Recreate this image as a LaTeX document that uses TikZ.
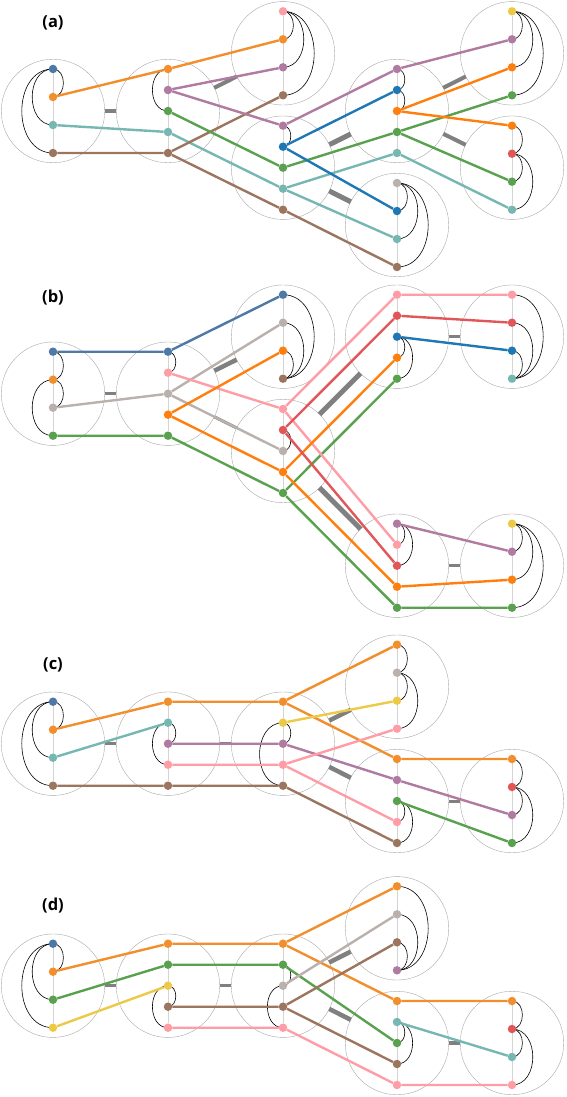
\documentclass[tikz,border=0pt]{standalone}
\usepackage{fontspec}
\setsansfont{Open Sans}
\pgfdeclarelayer{back}
\pgfsetlayers{back,main}

\definecolor{cSteel}{HTML}{4E79A7}
\definecolor{cOrA}{HTML}{F28E2B}
\definecolor{cOrB}{HTML}{FF7F0E}
\definecolor{cTeal}{HTML}{76B7B2}
\definecolor{cBrown}{HTML}{9C755F}
\definecolor{cPurple}{HTML}{B07AA1}
\definecolor{cGreen}{HTML}{59A14F}
\definecolor{cPink}{HTML}{FF9DA7}
\definecolor{cRed}{HTML}{E15759}
\definecolor{cYellow}{HTML}{EDC948}
\definecolor{cGray}{HTML}{BAB0AC}
\definecolor{cBlue}{HTML}{1F77B4}
\definecolor{ringGray}{HTML}{A8A8A8}
\definecolor{spineGray}{HTML}{D4D4D4}
\definecolor{rankGray}{HTML}{808080}

\tikzset{
  ring/.style={circle, draw=ringGray, line width=0.4pt, minimum size=103.5pt, inner sep=0pt, outer sep=0pt},
  dot/.style={circle, inner sep=0pt, minimum size=8.5pt},
  spine/.style={draw=spineGray, line width=1pt},
  thread/.style={line width=2.4pt},
  tie/.style={draw=black, line width=0.6pt},
  rbend/.style={out=0, in=0, looseness=1.27},
  lbend/.style={out=180, in=180, looseness=1.27},
  rank/.style={draw=rankGray, line width=#1},
  rank/.default=3.5pt,
  tag/.style={font=\sffamily\bfseries\fontsize{16.5}{16.5}\selectfont}
}

% hub: name, x, y of centre, colours of its dots from top to bottom
\newcommand{\hub}[4]{%
  \begin{pgfonlayer}{back}
    \node[ring] (#1) at (#2,#3) {};
  \end{pgfonlayer}
  \foreach \col [count=\i] in {#4} {\xdef\hubn{\i}}
  \foreach \col [count=\i] in {#4} {
    \pgfmathsetmacro\yy{#3-42+84*(\i-1)/(\hubn-1)}
    \node[dot, fill=\col] (#1-\i) at (#2,\yy) {};
  }
  \begin{pgfonlayer}{back}
    \draw[spine] (#1-1) -- (#1-\hubn);
  \end{pgfonlayer}
}

\begin{document}
\begin{tikzpicture}[x=1pt, y=-1pt]
\useasboundingbox (0,0) rectangle (566,1097);

% (a)
\node[tag] (la) at (53,23) {(a)};
\hub{a1}{53}{111}{cSteel,cOrA,cTeal,cBrown}
\hub{a2}{168}{111}{cOrA,cPurple,cGreen,cTeal,cBrown}
\hub{a3}{283}{53.3}{cPink,cOrA,cPurple,cBrown}
\hub{a4}{283}{167.7}{cPurple,cBlue,cGreen,cTeal,cBrown}
\hub{a5}{397}{111}{cPurple,cBlue,cOrB,cGreen,cTeal}
\hub{a6}{397}{225}{cGray,cBlue,cTeal,cBrown}
\hub{a7}{512}{53.3}{cYellow,cPurple,cOrB,cGreen}
\hub{a8}{512}{167.7}{cOrB,cRed,cGreen,cTeal}
\begin{pgfonlayer}{back}
  \draw[rank] (a1) -- (a2);
  \draw[rank=4pt] (a2) -- (a3);
  \draw[rank=5pt] (a4) -- (a5);
  \draw[rank=5pt] (a4) -- (a6);
  \draw[rank=4pt] (a5) -- (a7);
  \draw[rank=4pt] (a5) -- (a8);
  \draw[tie] (a1-1.center) to[rbend] (a1-2.center);
  \foreach \v in {3,4} \draw[tie] (a1-1.center) to[lbend] (a1-\v.center);
  \draw[tie] (a2-1.center) to[lbend] (a2-3.center);
  \foreach \v in {2,3,4} \draw[tie] (a3-1.center) to[rbend] (a3-\v.center);
  \draw[tie] (a4-1.center) to[rbend] (a4-2.center);
  \foreach \u/\v in {1/2,2/3} \draw[tie] (a5-\u.center) to[rbend] (a5-\v.center);
  \foreach \v in {2,3,4} \draw[tie] (a6-1.center) to[rbend] (a6-\v.center);
  \foreach \v in {2,3,4} \draw[tie] (a7-1.center) to[rbend] (a7-\v.center);
  \foreach \u/\v in {1/2,2/3,2/4} \draw[tie] (a8-\u.center) to[rbend] (a8-\v.center);
  \draw[thread,cOrA] (a1-2) -- (a2-1) -- (a3-2);
  \draw[thread,cTeal] (a1-3) -- (a2-4) -- (a4-4) -- (a5-5) -- (a8-4);
  \draw[thread,cTeal] (a4-4) -- (a6-3);
  \draw[thread,cBrown] (a1-4) -- (a2-5) -- (a3-4);
  \draw[thread,cBrown] (a2-5) -- (a4-5) -- (a6-4);
  \draw[thread,cPurple] (a2-2) -- (a3-3);
  \draw[thread,cPurple] (a2-2) -- (a4-1) -- (a5-1) -- (a7-2);
  \draw[thread,cGreen] (a2-3) -- (a4-3) -- (a5-4) -- (a7-4);
  \draw[thread,cGreen] (a5-4) -- (a8-3);
  \draw[thread,cBlue] (a4-2) -- (a5-2);
  \draw[thread,cBlue] (a4-2) -- (a6-2);
  \draw[thread,cOrB] (a5-3) -- (a7-3);
  \draw[thread,cOrB] (a5-3) -- (a8-1);
\end{pgfonlayer}

% (b)
\node[tag] (lb) at (53,298) {(b)};
\hub{b1}{53}{393.7}{cSteel,cOrA,cGray,cGreen}
\hub{b2}{168}{393.7}{cSteel,cPink,cGray,cOrB,cGreen}
\hub{b3}{283}{336.7}{cSteel,cGray,cOrB,cBrown}
\hub{b4}{283}{451}{cPink,cRed,cGray,cOrB,cGreen}
\hub{b5}{397}{336.7}{cPink,cRed,cBlue,cOrB,cGreen}
\hub{b6}{512}{336.7}{cPink,cRed,cBlue,cTeal}
\hub{b7}{397}{565.7}{cPurple,cPink,cRed,cOrB,cGreen}
\hub{b8}{512}{565.7}{cYellow,cPurple,cOrB,cGreen}
\begin{pgfonlayer}{back}
  \draw[rank=3pt] (b1) -- (b2);
  \draw[rank=4.5pt] (b2) -- (b3);
  \draw[rank=3pt] (b2) -- (b4);
  \draw[rank=5pt] (b4) -- (b5);
  \draw[rank=5pt] (b4) -- (b7);
  \draw[rank=3pt] (b5) -- (b6);
  \draw[rank=3pt] (b7) -- (b8);
  \foreach \u/\v in {1/2,2/3} \draw[tie] (b1-\u.center) to[rbend] (b1-\v.center);
  \draw[tie] (b1-2.center) to[lbend] (b1-4.center);
  \draw[tie] (b2-1.center) to[rbend] (b2-2.center);
  \foreach \u in {1,2,3} \draw[tie] (b3-\u.center) to[rbend] (b3-4.center);
  \draw[tie] (b4-2.center) to[rbend] (b4-3.center);
  \foreach \v in {4,5} \draw[tie] (b5-3.center) to[rbend] (b5-\v.center);
  \foreach \u in {1,2,3} \draw[tie] (b6-\u.center) to[rbend] (b6-4.center);
  \foreach \v in {2,3} \draw[tie] (b7-1.center) to[rbend] (b7-\v.center);
  \foreach \v in {2,3,4} \draw[tie] (b8-1.center) to[rbend] (b8-\v.center);
  \draw[thread,cSteel] (b1-1) -- (b2-1) -- (b3-1);
  \draw[thread,cGray] (b1-3) -- (b2-3) -- (b3-2);
  \draw[thread,cGray] (b2-3) -- (b4-3);
  \draw[thread,cGreen] (b1-4) -- (b2-5) -- (b4-5) -- (b5-5);
  \draw[thread,cGreen] (b4-5) -- (b7-5) -- (b8-4);
  \draw[thread,cPink] (b2-2) -- (b4-1) -- (b5-1) -- (b6-1);
  \draw[thread,cPink] (b4-1) -- (b7-2);
  \draw[thread,cOrB] (b2-4) -- (b3-3);
  \draw[thread,cOrB] (b2-4) -- (b4-4) -- (b5-4);
  \draw[thread,cOrB] (b4-4) -- (b7-4) -- (b8-3);
  \draw[thread,cRed] (b4-2) -- (b5-2) -- (b6-2);
  \draw[thread,cRed] (b4-2) -- (b7-3);
  \draw[thread,cBlue] (b5-3) -- (b6-3);
  \draw[thread,cPurple] (b7-1) -- (b8-2);
\end{pgfonlayer}

% (c)
\node[tag] (lc) at (53,665) {(c)};
\hub{c1}{53}{743.7}{cSteel,cOrA,cTeal,cBrown}
\hub{c2}{168}{743.7}{cOrA,cTeal,cPurple,cPink,cBrown}
\hub{c3}{283}{743.7}{cOrA,cYellow,cPurple,cPink,cBrown}
\hub{c4}{397}{686.7}{cOrA,cGray,cYellow,cPink}
\hub{c5}{397}{801}{cOrA,cPurple,cGreen,cPink,cBrown}
\hub{c6}{512}{801}{cOrA,cRed,cPurple,cGreen}
\begin{pgfonlayer}{back}
  \draw[rank] (c1) -- (c2);
  \draw[rank=3pt] (c2) -- (c3);
  \draw[rank=4.5pt] (c3) -- (c4);
  \draw[rank=4.5pt] (c3) -- (c5);
  \draw[rank=3pt] (c5) -- (c6);
  \draw[tie] (c1-1.center) to[rbend] (c1-2.center);
  \foreach \v in {3,4} \draw[tie] (c1-1.center) to[lbend] (c1-\v.center);
  \draw[tie] (c2-2.center) to[rbend] (c2-3.center);
  \draw[tie] (c2-2.center) to[lbend] (c2-4.center);
  \draw[tie] (c3-2.center) to[rbend] (c3-3.center);
  \draw[tie] (c3-2.center) to[lbend] (c3-5.center);
  \foreach \u/\v in {1/2,2/3,2/4} \draw[tie] (c4-\u.center) to[rbend] (c4-\v.center);
  \foreach \v in {4,5} \draw[tie] (c5-3.center) to[rbend] (c5-\v.center);
  \foreach \u/\v in {1/2,2/3,2/4} \draw[tie] (c6-\u.center) to[rbend] (c6-\v.center);
  \draw[thread,cOrA] (c1-2) -- (c2-1) -- (c3-1) -- (c4-1);
  \draw[thread,cOrA] (c3-1) -- (c5-1) -- (c6-1);
  \draw[thread,cTeal] (c1-3) -- (c2-2);
  \draw[thread,cBrown] (c1-4) -- (c2-5) -- (c3-5) -- (c5-5);
  \draw[thread,cPurple] (c2-3) -- (c3-3) -- (c5-2) -- (c6-3);
  \draw[thread,cPink] (c2-4) -- (c3-4) -- (c4-4);
  \draw[thread,cPink] (c3-4) -- (c5-4);
  \draw[thread,cYellow] (c3-2) -- (c4-3);
  \draw[thread,cGreen] (c5-3) -- (c6-4);
\end{pgfonlayer}

% (d)
\node[tag] (ld) at (53,906) {(d)};
\hub{d1}{53}{985.7}{cSteel,cOrA,cGreen,cYellow}
\hub{d2}{168}{985.7}{cOrA,cGreen,cYellow,cBrown,cPink}
\hub{d3}{283}{985.7}{cOrA,cGreen,cGray,cBrown,cPink}
\hub{d4}{397}{928.3}{cOrA,cGray,cBrown,cPurple}
\hub{d5}{397}{1043}{cOrA,cTeal,cGreen,cBrown,cPink}
\hub{d6}{512}{1043}{cOrA,cRed,cTeal,cPink}
\begin{pgfonlayer}{back}
  \draw[rank] (d1) -- (d2);
  \draw[rank] (d2) -- (d3);
  \draw[rank=4.5pt] (d3) -- (d4);
  \draw[rank=4.5pt] (d3) -- (d5);
  \draw[rank] (d5) -- (d6);
  \draw[tie] (d1-1.center) to[rbend] (d1-2.center);
  \foreach \v in {3,4} \draw[tie] (d1-1.center) to[lbend] (d1-\v.center);
  \draw[tie] (d2-3.center) to[rbend] (d2-4.center);
  \draw[tie] (d2-3.center) to[lbend] (d2-5.center);
  \draw[tie] (d3-2.center) to[rbend] (d3-3.center);
  \draw[tie] (d3-3.center) to[lbend] (d3-5.center);
  \foreach \u in {1,2,3} \draw[tie] (d4-\u.center) to[rbend] (d4-4.center);
  \foreach \v in {3,4} \draw[tie] (d5-2.center) to[rbend] (d5-\v.center);
  \foreach \u/\v in {1/2,2/3,2/4} \draw[tie] (d6-\u.center) to[rbend] (d6-\v.center);
  \draw[thread,cOrA] (d1-2) -- (d2-1) -- (d3-1) -- (d4-1);
  \draw[thread,cOrA] (d3-1) -- (d5-1) -- (d6-1);
  \draw[thread,cGreen] (d1-3) -- (d2-2) -- (d3-2) -- (d5-3);
  \draw[thread,cYellow] (d1-4) -- (d2-3);
  \draw[thread,cBrown] (d2-4) -- (d3-4) -- (d4-3);
  \draw[thread,cBrown] (d3-4) -- (d5-4);
  \draw[thread,cPink] (d2-5) -- (d3-5) -- (d5-5) -- (d6-4);
  \draw[thread,cGray] (d3-3) -- (d4-2);
  \draw[thread,cTeal] (d5-2) -- (d6-3);
\end{pgfonlayer}
\end{tikzpicture}
\end{document}
